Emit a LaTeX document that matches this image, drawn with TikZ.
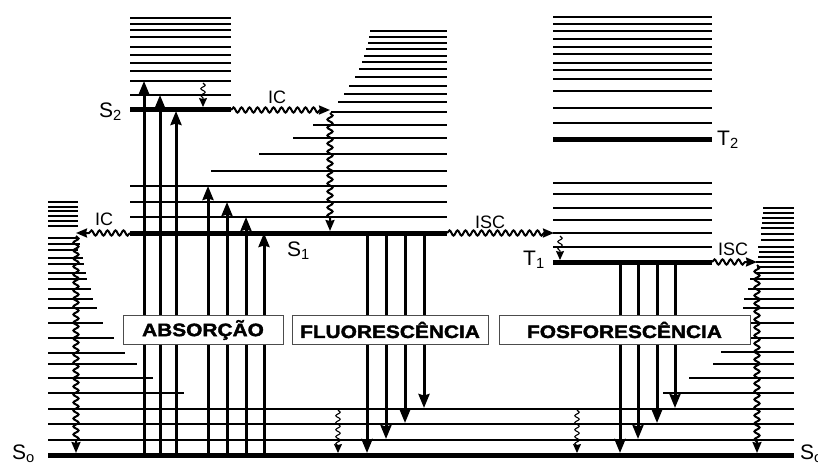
\documentclass[tikz,border=0pt]{standalone}
\usepackage{fontspec}
\setmainfont{Liberation Sans}
\newfontfamily\boxfont[FakeStretch=1.16,FakeBold=2]{Liberation Sans Bold}
\usetikzlibrary{arrows.meta,decorations.pathmorphing}

\begin{document}
\begin{tikzpicture}[x=1pt,y=-1pt,
  level/.style={line width=1.8pt},
  state/.style={line width=5pt},
  radiative/.style={line width=3pt,-{Stealth[length=14pt,width=11pt,inset=1.5pt]}},
  wavy/.style={line width=2pt,decorate,decoration={snake,amplitude=2.6pt,segment length=8pt,post length=10pt},
    -{Stealth[length=11pt,width=9pt,inset=1pt]}},
  relax/.style={line width=1.1pt,decorate,decoration={snake,amplitude=2.2pt,segment length=7pt,post length=7pt},
    -{Stealth[length=9pt,width=8pt,inset=1pt]}},
  tag/.style={inner sep=0pt,anchor=base west,font=\fontsize{21}{24}\selectfont},
  proc/.style={inner sep=0pt,anchor=base west,font=\fontsize{18}{20}\selectfont},
  caixa/.style={draw=black!70,line width=0.9pt,fill=white,inner sep=0pt,minimum height=29pt,
    font=\boxfont\fontsize{18}{22}\selectfont}]
\useasboundingbox (0,0) rectangle (818,466);

% S2
\foreach \y in {18,24,30,37,47,55,63,71,81,95} \draw[level] (130,\y) -- (231,\y);
\draw[state] (130,109) -- (231,109);
% S1
\foreach \x/\y in {370/31,369/37,368/43,366/49,364/56,362/62,359/69,355/77,349/86,344/94,338/102,
  331/112,313/125,293/138,259/154,211/171,130/186,130/202,130/217}
  \draw[level] (\x,\y) -- (447,\y);
\draw[state] (130,233) -- (447,233);
% T2, T1
\foreach \y in {17,24,31,39,47,54,63,70,79,91,108,123,183,194,208,220,233,247}
  \draw[level] (553,\y) -- (712,\y);
\draw[state] (553,139) -- (712,139);
\draw[state] (553,262) -- (712,262);
% S0
\foreach \x/\y in {78/202,78/207,78/211,78/216,78/221,78/226,78/238,80/244,78/250,83/258,84/264,
  86/273,87/279,91/289,93/299,97/308,103/323,114/338,125/353,137/364,153/378,184/393}
  \draw[level] (48,\y) -- (\x,\y);
\foreach \x/\y in {763/208,763/213,762/218,762/223,761/228,761/234,761/240,758/247,759/252,758/257,
  756/262,757/267,757/273,750/279,748/289,744/299,743/308,735/323,730/338,721/352,713/364,689/378,663/393}
  \draw[level] (\x,\y) -- (794,\y);
\foreach \y in {409,424,440} \draw[level] (48,\y) -- (794,\y);
\draw[state] (48,455) -- (794,455);

% absorption
\foreach \x/\y [count=\i] in {144/81,160/95,176/111,208/186,227/202,246/217,264/233} {
  \coordinate (ab\i) at (\x,453);
  \coordinate (ae\i) at (\x,\y);
  \draw[radiative] (ab\i) -- (ae\i);
}
% fluorescence
\foreach \x/\y [count=\i] in {367/453,386/439,405/423,424/408} {
  \coordinate (fb\i) at (\x,235);
  \coordinate (fe\i) at (\x,\y);
  \draw[radiative] (fb\i) -- (fe\i);
}
% phosphorescence
\foreach \x/\y [count=\i] in {620/453,638/439,657/423,675/408} {
  \coordinate (pb\i) at (\x,264);
  \coordinate (pe\i) at (\x,\y);
  \draw[radiative] (pb\i) -- (pe\i);
}

% nonradiative
\coordinate (s2r) at (231,110);
\coordinate (icb) at (330,110);
\coordinate (icc) at (330,113);
\coordinate (s1t) at (330,231);
\draw[wavy] (s2r) -- (icb);
\draw[wavy] (icc) -- (s1t);
\coordinate (s1l) at (130,233);
\coordinate (ica) at (76,233);
\coordinate (icd) at (76,236);
\coordinate (s0l) at (76,453);
\draw[wavy] (s1l) -- (ica);
\draw[wavy] (icd) -- (s0l);
\coordinate (s1r) at (447,233);
\coordinate (isa) at (554,233);
\draw[wavy] (s1r) -- (isa);
\coordinate (t1r) at (712,262);
\coordinate (isb) at (757,262);
\coordinate (isc) at (757,265);
\coordinate (s0r) at (757,453);
\draw[wavy] (t1r) -- (isb);
\draw[wavy] (isc) -- (s0r);
\coordinate (vr1) at (203,83);  \coordinate (vr2) at (203,107);
\coordinate (vr3) at (560,236); \coordinate (vr4) at (560,260);
\coordinate (vr5) at (338,410); \coordinate (vr6) at (338,453);
\coordinate (vr7) at (577,410); \coordinate (vr8) at (577,453);
\draw[relax] (vr1) -- (vr2);
\draw[relax] (vr3) -- (vr4);
\draw[relax] (vr5) -- (vr6);
\draw[relax] (vr7) -- (vr8);

% labels
\node[tag] (lS2) at (99,117) {S\textsubscript{2}};
\node[tag] (lS1) at (287,256) {S\textsubscript{1}};
\node[tag] (lT2) at (717,145) {T\textsubscript{2}};
\node[tag] (lT1) at (523,265) {T\textsubscript{1}};
\node[tag] (lS0a) at (12,459) {S\textsubscript{o}};
\node[tag] (lS0b) at (800,459) {S\textsubscript{o}};
\node[proc] (icA) at (268,103) {IC};
\node[proc] (icB) at (95,225) {IC};
\node[proc] (iscA) at (475,228) {ISC};
\node[proc] (iscB) at (718,255) {ISC};

\node[caixa,minimum width=160pt] (abs) at (203,330) {ABSORÇÃO};
\node[caixa,minimum width=196pt] (fluo) at (390,330) {FLUORESCÊNCIA};
\node[caixa,minimum width=251pt] (fosf) at (624.5,330) {FOSFORESCÊNCIA};
\end{tikzpicture}
\end{document}
